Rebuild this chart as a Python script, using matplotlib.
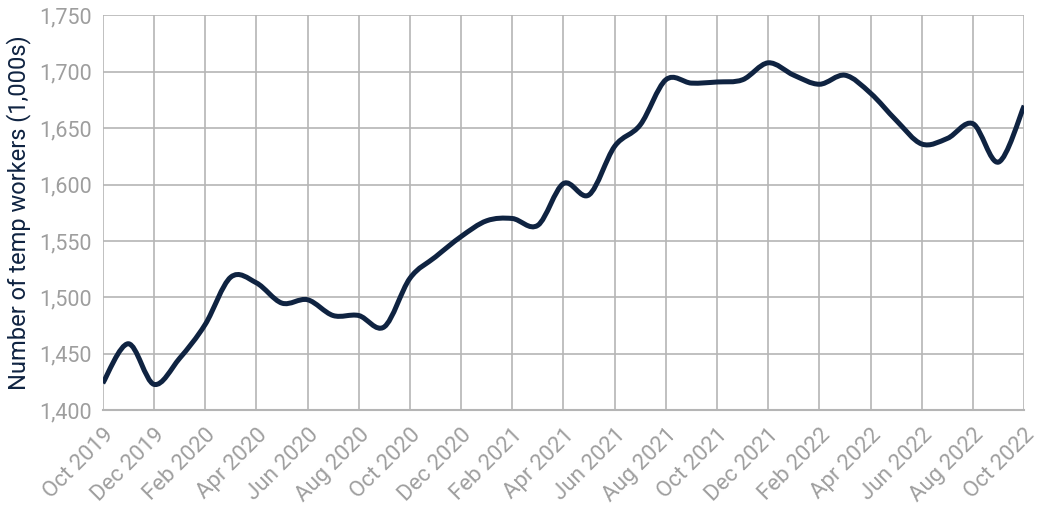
import numpy as np
import matplotlib.pyplot as plt
from matplotlib.path import Path
from matplotlib.patches import PathPatch

#---------------------------------------------------------------------------------------------------
# Data: temp workers (1,000s), monthly Oct 2019 - Oct 2022
#---------------------------------------------------------------------------------------------------

months = ['Oct 2019', 'Nov 2019', 'Dec 2019', 'Jan 2020', 'Feb 2020', 'Mar 2020', 'Apr 2020',
          'May 2020', 'Jun 2020', 'Jul 2020', 'Aug 2020', 'Sep 2020', 'Oct 2020', 'Nov 2020',
          'Dec 2020', 'Jan 2021', 'Feb 2021', 'Mar 2021', 'Apr 2021', 'May 2021', 'Jun 2021',
          'Jul 2021', 'Aug 2021', 'Sep 2021', 'Oct 2021', 'Nov 2021', 'Dec 2021', 'Jan 2022',
          'Feb 2022', 'Mar 2022', 'Apr 2022', 'May 2022', 'Jun 2022', 'Jul 2022', 'Aug 2022',
          'Sep 2022', 'Oct 2022']

workers = [1424, 1459, 1423, 1446, 1476, 1518, 1513, 1495, 1498, 1484, 1484, 1474, 1517,
           1536, 1554, 1568, 1570, 1564, 1601, 1591, 1634, 1653, 1693, 1690, 1691, 1693,
           1708, 1697, 1689, 1697, 1681, 1657, 1636, 1641, 1654, 1620, 1670]

yticks = [1400, 1450, 1500, 1550, 1600, 1650, 1700, 1750]

line_color = '#0f2341'
grid_color = '#b5b5b5'
label_color = '#9e9e9e'

plt.rcParams['font.family'] = ['Roboto', 'DejaVu Sans']

#---------------------------------------------------------------------------------------------------
# Smooth curve through the points (Catmull-Rom as cubic Bezier segments)
#---------------------------------------------------------------------------------------------------

x = np.arange(len(workers), dtype=float)
y = np.array(workers, dtype=float)

verts = [(x[0], y[0])]
codes = [Path.MOVETO]
for i in range(len(x) - 1):
    p0 = (x[max(i - 1, 0)], y[max(i - 1, 0)])
    p1 = (x[i], y[i])
    p2 = (x[i + 1], y[i + 1])
    p3 = (x[min(i + 2, len(x) - 1)], y[min(i + 2, len(x) - 1)])
    c1 = (p1[0] + (p2[0] - p0[0]) / 6.0, p1[1] + (p2[1] - p0[1]) / 6.0)
    c2 = (p2[0] - (p3[0] - p1[0]) / 6.0, p2[1] - (p3[1] - p1[1]) / 6.0)
    verts += [c1, c2, p2]
    codes += [Path.CURVE4] * 3

#---------------------------------------------------------------------------------------------------
# Figure
#---------------------------------------------------------------------------------------------------

fig = plt.figure(figsize=(10.4, 5.23), dpi=100)
ax = fig.add_axes([0.0988, 0.2155, 0.886, 0.755])

ax.add_patch(PathPatch(Path(verts, codes), facecolor='none', edgecolor=line_color,
                       linewidth=3.6, capstyle='butt', joinstyle='round', zorder=3))

ax.set_xlim(0, len(x) - 1)
ax.set_ylim(1400, 1750)

ax.set_xticks(x[::2])
ax.set_xticklabels(months[::2], rotation=45, ha='right', va='top', rotation_mode='anchor',
                   fontsize=16, color=label_color)
ax.set_yticks(yticks)
ax.set_yticklabels(['{:,}'.format(v) for v in yticks], fontsize=15.5, color=label_color)

ax.grid(True, color=grid_color, linewidth=1.2)
ax.tick_params(axis='y', length=0, pad=8)
ax.tick_params(axis='x', length=0, pad=10)
for side in ['top', 'right', 'left']:
    ax.spines[side].set_visible(False)
ax.spines['bottom'].set_color(grid_color)
ax.spines['bottom'].set_linewidth(1.5)

ax.set_ylabel('Number of temp workers (1,000s)', fontsize=17, color=line_color, labelpad=6)

plt.savefig('out.png', dpi=100)
